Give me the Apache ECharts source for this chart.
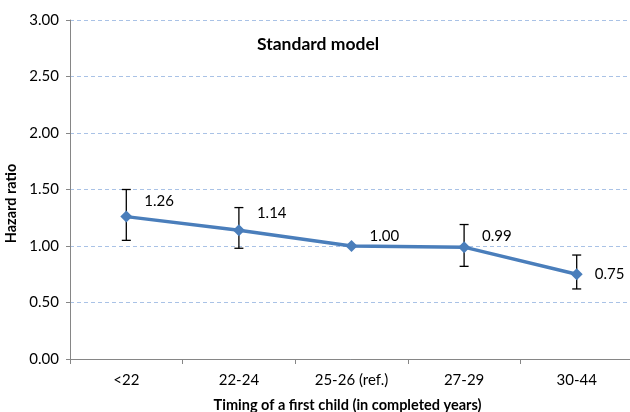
<!DOCTYPE html>
<html><head><meta charset="utf-8">
<script src="https://cdn.jsdelivr.net/npm/echarts@6/dist/echarts.min.js"></script>
<style>html,body{margin:0;padding:0;background:#fff}#c{width:630px;height:412px}</style>
</head><body><div id="c"></div>
<script>
const categories = ['<22', '22-24', '25-26 (ref.)', '27-29', '30-44'];
const hazardRatio = [1.26, 1.14, 1.00, 0.99, 0.75];
const ciLower = [1.05, 0.98, 1.00, 0.82, 0.62];
const ciUpper = [1.50, 1.34, 1.00, 1.19, 0.92];
const yTicks = [0, 0.5, 1, 1.5, 2, 2.5, 3];

const labelOffsets = [[12, -15], [12, -17], [12, -10], [12, -11], [12, 0]];
const font = 'Lato';

const chart = echarts.init(document.getElementById('c'));
chart.setOption({
  animation: false,
  title: {
    text: 'Standard model', left: 252, top: 30,
    textStyle: {fontFamily: font, fontSize: 17.5, fontWeight: 'bold', color: '#000'}
  },
  grid: {left: 70, top: 20, width: 563, height: 339, outerBoundsMode: 'none', containLabel: false},
  xAxis: {
    type: 'category', data: categories, boundaryGap: true,
    axisLine: {lineStyle: {color: '#868686', width: 1}},
    axisTick: {show: true, length: 5, lineStyle: {color: '#868686'}},
    axisLabel: {fontFamily: font, fontSize: 15, color: '#000', margin: 14},
    name: 'Timing of a first child (in completed years)',
    nameLocation: 'middle', nameGap: 39,
    nameTextStyle: {fontFamily: font, fontSize: 14.5, fontWeight: 'bold', color: '#000', padding: [0, 8, 0, 0]}
  },
  yAxis: {
    type: 'value', min: 0, max: 3, interval: 0.5,
    axisLine: {show: true, lineStyle: {color: '#868686', width: 1}},
    axisTick: {show: true, length: 4, lineStyle: {color: '#868686'}},
    axisLabel: {fontFamily: font, fontSize: 15, color: '#000', margin: 11,
      formatter: v => v.toFixed(2)},
    splitLine: {lineStyle: {color: '#a9c2e6', type: [4, 3], width: 1}},
    name: 'Hazard ratio', nameLocation: 'middle', nameGap: 49, nameRotate: 90,
    nameTextStyle: {fontFamily: font, fontSize: 14.5, fontWeight: 'bold', color: '#000', padding: [0, 28, 0, 0]}
  },
  series: [
    {
      type: 'custom',
      z: 3,
      data: categories.map((c, i) => [i, ciLower[i], ciUpper[i]]),
      renderItem: function (params, api) {
        if (api.value(1) === api.value(2)) return {type: 'group', children: []};
        const lo = api.coord([api.value(0), api.value(1)]);
        const hi = api.coord([api.value(0), api.value(2)]);
        const w = 4.5;
        const st = {stroke: '#000', lineWidth: 1.3};
        return {type: 'group', children: [
          {type: 'line', shape: {x1: lo[0], y1: lo[1], x2: hi[0], y2: hi[1]}, style: st},
          {type: 'line', shape: {x1: lo[0] - w, y1: lo[1], x2: lo[0] + w, y2: lo[1]}, style: st},
          {type: 'line', shape: {x1: hi[0] - w, y1: hi[1], x2: hi[0] + w, y2: hi[1]}, style: st}
        ]};
      }
    },
    {
      type: 'line', z: 4,
      data: hazardRatio.map((v, i) => ({
        value: v,
        label: {offset: labelOffsets[i]}
      })),
      lineStyle: {color: '#4a7ebb', width: 3.5},
      itemStyle: {color: '#4a7ebb'},
      symbol: 'diamond', symbolSize: 12,
      label: {
        show: true, position: 'right', distance: 0,
        fontFamily: font, fontSize: 15, color: '#000',
        formatter: p => p.value.toFixed(2)
      }
    }
  ]
});
</script></body></html>
